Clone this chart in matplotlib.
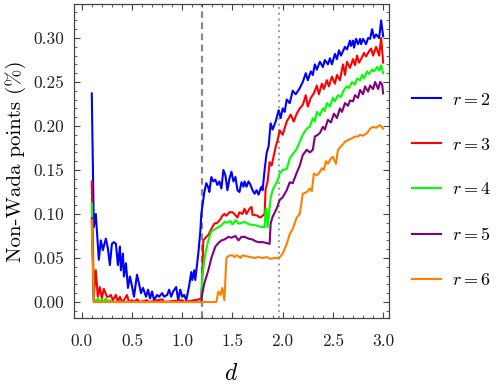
import matplotlib
matplotlib.use('Agg')
import matplotlib.pyplot as plt
from matplotlib.ticker import MultipleLocator, FormatStrFormatter

plt.rcParams['font.family'] = 'cmr10'
plt.rcParams['mathtext.fontset'] = 'cm'
plt.rcParams['axes.formatter.use_mathtext'] = True

# r = 2
d_r2 = [0.10, 0.12, 0.14, 0.17, 0.19, 0.21, 0.24, 0.26, 0.28, 0.30, 0.32, 0.34, 0.36, 0.38, 0.39,
        0.41, 0.42, 0.44, 0.46, 0.48, 0.50, 0.52, 0.55, 0.57, 0.59, 0.61, 0.64, 0.66, 0.68, 0.70,
        0.72, 0.75, 0.77, 0.80, 0.82, 0.85, 0.87, 0.89, 0.91, 0.94, 0.96, 0.98, 1.00, 1.02, 1.04,
        1.07, 1.09, 1.10, 1.12, 1.13, 1.16, 1.18, 1.19, 1.22, 1.24, 1.26, 1.27, 1.29, 1.31, 1.33,
        1.35, 1.37, 1.39, 1.41, 1.43, 1.45, 1.47, 1.49, 1.51, 1.53, 1.55, 1.57, 1.59, 1.61, 1.62,
        1.64, 1.66, 1.68, 1.70, 1.72, 1.74, 1.76, 1.78, 1.79, 1.80, 1.82, 1.84, 1.86, 1.88, 1.90,
        1.93, 1.96, 1.98, 2.00, 2.02, 2.04, 2.07, 2.10, 2.13, 2.17, 2.20, 2.23, 2.25, 2.28, 2.30,
        2.32, 2.34, 2.37, 2.40, 2.42, 2.45, 2.47, 2.49, 2.52, 2.54, 2.56, 2.58, 2.62, 2.64, 2.67,
        2.68, 2.70, 2.71, 2.73, 2.75, 2.77, 2.78, 2.80, 2.83, 2.85, 2.87, 2.89, 2.91, 2.93, 2.96,
        2.98, 3.00]
v_r2 = [0.237, 0.085, 0.100, 0.048, 0.070, 0.059, 0.072, 0.061, 0.042, 0.066, 0.068, 0.066, 0.042, 0.063, 0.036,
        0.055, 0.029, 0.044, 0.016, 0.029, 0.018, 0.006, 0.031, 0.021, 0.010, 0.016, 0.006, 0.014, 0.004, 0.012,
        0.002, 0.008, 0.006, 0.010, 0.006, 0.008, 0.014, 0.006, 0.012, 0.017, 0.002, 0.014, 0.006, 0.008, 0.002,
        0.019, 0.034, 0.025, 0.036, 0.025, 0.055, 0.080, 0.100, 0.125, 0.135, 0.130, 0.125, 0.142, 0.137, 0.139,
        0.133, 0.137, 0.129, 0.150, 0.144, 0.127, 0.140, 0.148, 0.137, 0.142, 0.127, 0.125, 0.136, 0.131, 0.137,
        0.131, 0.137, 0.133, 0.127, 0.123, 0.127, 0.122, 0.129, 0.131, 0.127, 0.150, 0.169, 0.177, 0.203, 0.196,
        0.205, 0.218, 0.209, 0.220, 0.216, 0.230, 0.226, 0.240, 0.236, 0.243, 0.250, 0.260, 0.252, 0.262, 0.258,
        0.270, 0.264, 0.273, 0.267, 0.275, 0.270, 0.277, 0.270, 0.282, 0.276, 0.286, 0.280, 0.290, 0.287, 0.297,
        0.291, 0.297, 0.289, 0.299, 0.293, 0.299, 0.293, 0.299, 0.293, 0.300, 0.299, 0.310, 0.300, 0.304, 0.300,
        0.320, 0.302]

# r = 3
d_r3 = [0.10, 0.12, 0.14, 0.16, 0.18, 0.20, 0.22, 0.25, 0.27, 0.29, 0.31, 0.34, 0.36, 0.38, 0.40,
        0.42, 0.45, 0.47, 0.50, 0.52, 0.55, 0.58, 0.65, 0.67, 0.80, 0.82, 1.00, 1.02, 1.17, 1.19,
        1.20, 1.21, 1.24, 1.26, 1.29, 1.32, 1.35, 1.38, 1.40, 1.42, 1.44, 1.47, 1.50, 1.52, 1.55,
        1.57, 1.60, 1.62, 1.64, 1.67, 1.69, 1.70, 1.72, 1.75, 1.77, 1.79, 1.82, 1.83, 1.85, 1.87,
        1.89, 1.93, 1.95, 1.97, 2.00, 2.04, 2.08, 2.11, 2.14, 2.17, 2.20, 2.23, 2.25, 2.28, 2.31,
        2.34, 2.36, 2.39, 2.41, 2.44, 2.46, 2.49, 2.52, 2.54, 2.57, 2.60, 2.62, 2.64, 2.67, 2.70,
        2.72, 2.74, 2.76, 2.78, 2.81, 2.83, 2.86, 2.88, 2.90, 2.93, 2.96, 2.98, 3.00]
v_r3 = [0.137, 0.006, 0.036, 0.006, 0.017, 0.004, 0.015, 0.006, 0.006, 0.008, 0.002, 0.008, 0.000, 0.006, 0.000,
        0.002, 0.008, 0.000, 0.002, 0.000, 0.003, 0.000, 0.002, 0.000, 0.003, 0.000, 0.002, 0.000, 0.003, 0.005,
        0.030, 0.070, 0.074, 0.076, 0.083, 0.089, 0.090, 0.094, 0.098, 0.100, 0.098, 0.102, 0.102, 0.100, 0.096,
        0.102, 0.100, 0.106, 0.100, 0.106, 0.108, 0.099, 0.099, 0.098, 0.096, 0.097, 0.100, 0.128, 0.137, 0.159,
        0.155, 0.176, 0.184, 0.195, 0.190, 0.205, 0.213, 0.205, 0.214, 0.220, 0.224, 0.235, 0.222, 0.232, 0.237,
        0.246, 0.236, 0.248, 0.242, 0.252, 0.245, 0.256, 0.248, 0.258, 0.252, 0.270, 0.258, 0.273, 0.266, 0.276,
        0.269, 0.280, 0.272, 0.276, 0.283, 0.279, 0.285, 0.288, 0.280, 0.290, 0.280, 0.300, 0.272]

# r = 4
d_r4 = [0.10, 0.12, 0.14, 0.16, 0.18, 0.20, 0.22, 0.24, 0.26, 0.28, 0.30, 1.19, 1.20, 1.23, 1.26,
        1.29, 1.33, 1.36, 1.39, 1.42, 1.45, 1.48, 1.50, 1.53, 1.56, 1.59, 1.62, 1.65, 1.68, 1.72,
        1.76, 1.80, 1.82, 1.83, 1.84, 1.85, 1.88, 1.90, 1.93, 1.95, 1.97, 2.00, 2.04, 2.07, 2.10,
        2.14, 2.17, 2.20, 2.24, 2.27, 2.30, 2.32, 2.34, 2.37, 2.40, 2.42, 2.44, 2.47, 2.50, 2.52,
        2.55, 2.58, 2.61, 2.64, 2.66, 2.69, 2.72, 2.74, 2.77, 2.79, 2.81, 2.84, 2.86, 2.89, 2.91,
        2.94, 2.96, 2.98, 3.00]
v_r4 = [0.112, 0.004, 0.000, 0.004, 0.000, 0.003, 0.000, 0.004, 0.000, 0.002, 0.000, 0.000, 0.029, 0.055, 0.070,
        0.080, 0.083, 0.085, 0.087, 0.091, 0.090, 0.092, 0.088, 0.093, 0.089, 0.090, 0.091, 0.089, 0.088, 0.0875,
        0.086, 0.085, 0.085, 0.105, 0.106, 0.085, 0.118, 0.127, 0.134, 0.138, 0.146, 0.150, 0.151, 0.163, 0.168,
        0.174, 0.182, 0.190, 0.197, 0.199, 0.209, 0.205, 0.216, 0.212, 0.220, 0.217, 0.226, 0.222, 0.232, 0.228,
        0.235, 0.233, 0.241, 0.245, 0.243, 0.250, 0.247, 0.254, 0.252, 0.258, 0.254, 0.262, 0.259, 0.264, 0.262,
        0.267, 0.263, 0.269, 0.260]

# r = 5
d_r5 = [0.10, 0.12, 1.19, 1.20, 1.22, 1.26, 1.29, 1.33, 1.36, 1.39, 1.42, 1.46, 1.49, 1.53, 1.56,
        1.59, 1.62, 1.66, 1.70, 1.73, 1.76, 1.80, 1.84, 1.87, 1.88, 1.90, 1.94, 1.97, 2.00, 2.04,
        2.07, 2.10, 2.14, 2.17, 2.20, 2.24, 2.27, 2.30, 2.32, 2.35, 2.37, 2.40, 2.42, 2.45, 2.48,
        2.51, 2.54, 2.57, 2.59, 2.62, 2.65, 2.67, 2.70, 2.72, 2.75, 2.77, 2.80, 2.82, 2.85, 2.87,
        2.90, 2.92, 2.95, 2.97, 2.99, 3.00]
v_r5 = [0.095, 0.000, 0.000, 0.010, 0.021, 0.036, 0.050, 0.063, 0.067, 0.070, 0.071, 0.074, 0.073, 0.075, 0.070,
        0.074, 0.074, 0.072, 0.071, 0.069, 0.068, 0.068, 0.067, 0.066, 0.089, 0.097, 0.106, 0.116, 0.119, 0.127,
        0.136, 0.135, 0.147, 0.155, 0.167, 0.173, 0.170, 0.173, 0.188, 0.190, 0.192, 0.199, 0.196, 0.207, 0.204,
        0.214, 0.209, 0.220, 0.216, 0.226, 0.223, 0.229, 0.228, 0.235, 0.232, 0.241, 0.236, 0.245, 0.239, 0.246,
        0.242, 0.250, 0.242, 0.250, 0.247, 0.237]

# r = 6
d_r6 = [0.10, 0.12, 1.34, 1.36, 1.38, 1.40, 1.42, 1.44, 1.46, 1.48, 1.50, 1.52, 1.54, 1.56, 1.58,
        1.60, 1.64, 1.68, 1.72, 1.76, 1.80, 1.84, 1.88, 1.92, 1.96, 1.98, 2.00, 2.04, 2.07, 2.10,
        2.14, 2.17, 2.20, 2.24, 2.27, 2.29, 2.31, 2.34, 2.36, 2.39, 2.41, 2.43, 2.45, 2.48, 2.50,
        2.53, 2.55, 2.59, 2.62, 2.65, 2.69, 2.72, 2.75, 2.77, 2.80, 2.84, 2.87, 2.90, 2.93, 2.97,
        3.00]
v_r6 = [0.093, 0.000, 0.000, 0.012, 0.008, 0.016, 0.002, 0.050, 0.052, 0.053, 0.053, 0.051, 0.053, 0.052, 0.050,
        0.053, 0.052, 0.051, 0.050, 0.051, 0.050, 0.051, 0.049, 0.050, 0.050, 0.052, 0.055, 0.066, 0.077, 0.083,
        0.096, 0.100, 0.123, 0.125, 0.129, 0.126, 0.146, 0.144, 0.146, 0.152, 0.150, 0.160, 0.157, 0.163, 0.165,
        0.157, 0.173, 0.178, 0.182, 0.184, 0.186, 0.188, 0.188, 0.190, 0.189, 0.192, 0.197, 0.199, 0.198, 0.201,
        0.197]

labels = ['$r = 2$', '$r = 3$', '$r = 4$', '$r = 5$', '$r = 6$']
colors = ['#0000ff', '#ff0000', '#00ff00', '#800080', '#ff8000']
d_dash = 1.2
d_dot = 1.965

fig = plt.figure(figsize=(4.98, 3.9), dpi=100)
ax = fig.add_axes([0.1486, 0.1846, 0.6325, 0.8051])

ax.axvline(d_dash, color='#888888', lw=1.6, ls=(0, (3, 2)), zorder=1)
ax.axvline(d_dot, color='#999999', lw=1.4, ls=(0, (1, 2)), zorder=1)

series = [(d_r2, v_r2), (d_r3, v_r3), (d_r4, v_r4), (d_r5, v_r5), (d_r6, v_r6)]
for (dd, vv), lab, c in zip(series, labels, colors):
    ax.plot(dd, vv, color=c, lw=1.5, label=lab)

ax.set_xlim(-0.077, 3.058)
ax.set_ylim(-0.0182, 0.3386)
ax.xaxis.set_major_locator(MultipleLocator(0.5))
ax.xaxis.set_minor_locator(MultipleLocator(0.1))
ax.yaxis.set_major_locator(MultipleLocator(0.05))
ax.yaxis.set_minor_locator(MultipleLocator(0.01))
ax.xaxis.set_major_formatter(FormatStrFormatter('%.1f'))
ax.yaxis.set_major_formatter(FormatStrFormatter('%.2f'))
ax.tick_params(which='both', direction='in', top=True, right=True, colors='#444444',
               labelcolor='#222222', labelsize=12.5)
ax.tick_params(which='major', length=4.5, width=0.8, pad=7)
ax.tick_params(axis='x', which='major', pad=11)
ax.tick_params(which='minor', length=2.5, width=0.6)
for s in ax.spines.values():
    s.set_color('#444444')
    s.set_linewidth(0.9)

ax.set_xlabel('$d$', fontsize=17, labelpad=10)
ax.set_ylabel('Non-Wada points (%)', fontsize=15, labelpad=5)

fig.legend(loc='center left', bbox_to_anchor=(0.827, 0.513), frameon=False, fontsize=13,
           handlelength=1.6, handletextpad=0.6, labelspacing=1.6,
           borderpad=0, borderaxespad=0)

fig.savefig('out.png', dpi=100)
